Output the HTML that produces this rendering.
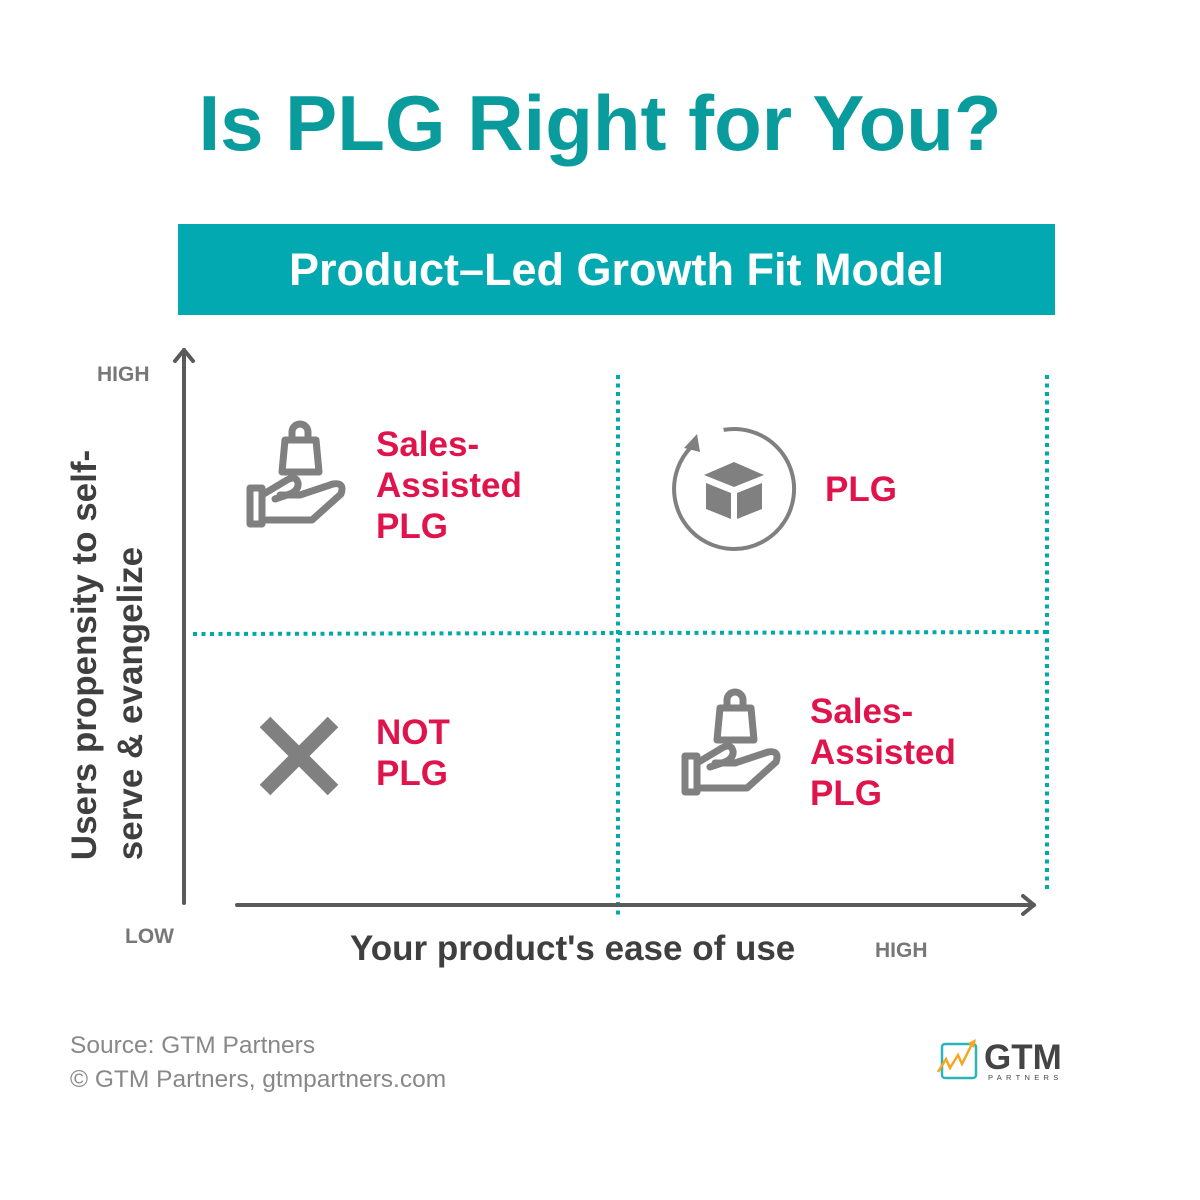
<!DOCTYPE html>
<html><head><meta charset="utf-8"><style>
html,body{margin:0;padding:0;background:#fff;}
body{width:1200px;height:1200px;position:relative;overflow:hidden;font-family:"Liberation Sans",sans-serif;}
.t{position:absolute;white-space:nowrap;}
.red{color:#e0144c;font-weight:bold;font-size:35px;line-height:41px;}
</style></head><body>
<div class="t" style="left:0;width:1200px;top:78px;text-align:center;font-size:78px;font-weight:bold;color:#0a9c9c;">Is PLG Right for You?</div>
<div style="position:absolute;left:178px;top:224px;width:877px;height:91px;background:#03a9b0;"></div>
<div class="t" style="left:178px;width:877px;top:244px;text-align:center;font-size:45px;font-weight:bold;color:#fff;">Product–Led Growth Fit Model</div>

<svg style="position:absolute;left:0;top:0" width="1200" height="1200">
<g stroke="#00aaaa" stroke-width="4" stroke-dasharray="4 4.5" fill="none">
<line x1="618" y1="375" x2="618" y2="915"/>
<line x1="1047" y1="375" x2="1047" y2="890"/>
<line x1="193" y1="634" x2="1047" y2="632"/>
</g>
<g stroke="#5a5a5a" stroke-width="4" fill="none" stroke-linecap="round" stroke-linejoin="round">
<line x1="184" y1="903" x2="184" y2="350"/>
<polyline points="175,361 184,350 193,361"/>
<line x1="237" y1="905" x2="1034" y2="905"/>
<polyline points="1023,896 1034,905 1023,914"/>
</g>
<g id="hb" fill="none" stroke="#808080" stroke-width="7" stroke-linejoin="round" stroke-linecap="round">
<path d="M282,472 L285,440 H316 L319,472 Z"/>
<path d="M292,440 V432 A8,8 0 0 1 308,432 V440"/>
<rect x="250" y="488" width="12" height="36"/>
<path d="M262,495 L287,480 Q296,475 298,483 Q299,490 290,494 L275,499 M280,495 H300 L333,484 Q345,482 341,494 L312,520 H262"/>
</g>
<use href="#hb" transform="translate(435,268)"/>
<path d="M691.6,446.6 A60,60 0 1 0 723.6,429.9" fill="none" stroke="#808080" stroke-width="4"/>
<path d="M684,448 L697,434 L700,452 Z" fill="#808080"/>
<g fill="#808080">
<path d="M704,475 L734,462 L764,475 L734,487 Z"/>
<path d="M706,483 L731,493 V519 L706,509 Z"/>
<path d="M762,483 L737,493 V519 L762,509 Z"/>
</g>
<g stroke="#808080" stroke-width="15">
<line x1="265" y1="722" x2="333" y2="790"/>
<line x1="333" y1="722" x2="265" y2="790"/>
</g>
</svg>

<div class="t red" style="left:376px;top:424px;">Sales-<br>Assisted<br>PLG</div>
<div class="t red" style="left:825px;top:469px;">PLG</div>
<div class="t red" style="left:376px;top:712px;">NOT<br>PLG</div>
<div class="t red" style="left:810px;top:691px;">Sales-<br>Assisted<br>PLG</div>

<div class="t" style="left:97px;top:363px;font-size:21px;font-weight:bold;color:#777;">HIGH</div>
<div class="t" style="left:125px;top:925px;font-size:21px;font-weight:bold;color:#777;">LOW</div>
<div class="t" style="left:875px;top:939px;font-size:21px;font-weight:bold;color:#777;">HIGH</div>
<div class="t" style="left:350px;top:929px;font-size:35px;font-weight:bold;color:#3f3f3f;">Your product's ease of use</div>
<div class="t" style="left:108px;top:655px;transform:translate(-50%,-50%) rotate(-90deg);font-size:35px;font-weight:bold;color:#3f3f3f;line-height:46px;text-align:left;">Users propensity to self-<br>serve &amp; evangelize</div>

<div class="t" style="left:70px;top:1029px;font-size:24.5px;color:#888;line-height:34px;">Source: GTM Partners<br>© GTM Partners, gtmpartners.com</div>

<svg style="position:absolute;left:936px;top:1036px" width="135" height="48">
<rect x="6" y="8" width="34" height="34" rx="3" fill="none" stroke="#2ab5bb" stroke-width="2.5"/>
<polyline points="2,36 10,23 14,32 22,19 26,28 36,8" fill="none" stroke="#f5a623" stroke-width="2.5"/>
<path d="M32,7 L40,3 L38,12 Z" fill="#f5a623"/>
<text x="48" y="33" font-family="Liberation Sans" font-weight="bold" font-size="35" fill="#444">GTM</text>
<text x="52" y="44" font-family="Liberation Sans" font-size="7.5" letter-spacing="4.3" fill="#444">PARTNERS</text>
</svg>
</body></html>
